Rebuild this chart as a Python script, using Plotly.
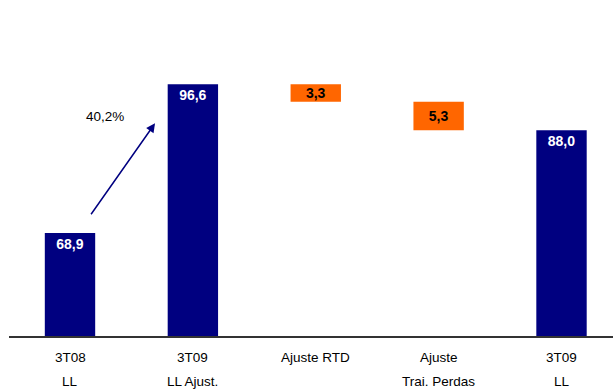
import plotly.graph_objects as go

categories_line1 = ["3T08", "3T09", "Ajuste RTD", "Ajuste", "3T09"]
categories_line2 = ["LL", "LL Ajust.", "", "Trai. Perdas", "LL"]
values = [68.9, 96.6, 3.3, 5.3, 88.0]
kinds = ["total", "total", "delta", "delta", "total"]

NAVY = "#000080"
ORANGE = "#FF6600"
FONT = "Liberation Sans, Arial, sans-serif"

# waterfall bases computed from the data
bases = []
running = None
for v, k in zip(values, kinds):
    if k == "total":
        bases.append(0)
        running = v
    else:
        running = running - v
        bases.append(running)
colors = [NAVY if k == "total" else ORANGE for k in kinds]
txtcol = ["white" if k == "total" else "black" for k in kinds]
labels = [f"{v:.1f}".replace(".", ",") for v in values]
xs = list(range(len(values)))

y0 = 49.7
pxu = 5.37
plot_h = 336
y1 = y0 + plot_h / pxu

fig = go.Figure()
for i in xs:
    fig.add_trace(go.Bar(
        x=[i], y=[values[i]], base=[bases[i]],
        marker=dict(color=colors[i], line=dict(width=0)),
        width=0.41,
        text=[labels[i]],
        textposition="inside",
        insidetextanchor="end" if kinds[i] == "total" else "middle",
        constraintext="none",
        textfont=dict(family=FONT, size=14, color=txtcol[i], weight="bold"),
        textangle=0,
        showlegend=False,
    ))

growth = (values[1] / values[0] - 1) * 100
anns = []
anns.append(dict(x=0.692, y=89.3, ax=0.163, ay=72.1, xref="x", yref="y", axref="x", ayref="y",
                 showarrow=True, arrowhead=2, arrowsize=1.2, arrowwidth=1.5, arrowcolor=NAVY, text=""))
anns.append(dict(x=0.285, y=90.5, xref="x", yref="y", showarrow=False,
                 text=f"{growth:.1f}%".replace(".", ","),
                 font=dict(family=FONT, size=13.5, color="black")))
for i in xs:
    anns.append(dict(x=i, y=0, xref="x", yref="paper", yanchor="middle", yshift=-21, showarrow=False,
                     text=categories_line1[i], font=dict(family=FONT, size=13.5, color="black")))
    if categories_line2[i]:
        anns.append(dict(x=i, y=0, xref="x", yref="paper", yanchor="middle", yshift=-45, showarrow=False,
                         text=categories_line2[i], font=dict(family=FONT, size=13.5, color="black")))

fig.update_layout(
    width=613, height=390,
    margin=dict(l=9, r=0, t=0, b=390 - plot_h),
    paper_bgcolor="white", plot_bgcolor="white",
    barmode="overlay",
    annotations=anns,
    xaxis=dict(range=[-0.4964, 4.419], showticklabels=False, ticks="", showgrid=False,
               zeroline=False, showline=True, linecolor="#333333", linewidth=1.5, fixedrange=True),
    yaxis=dict(range=[y0, y1], visible=False, showgrid=False, zeroline=False),
)
fig.write_html("out.html")
